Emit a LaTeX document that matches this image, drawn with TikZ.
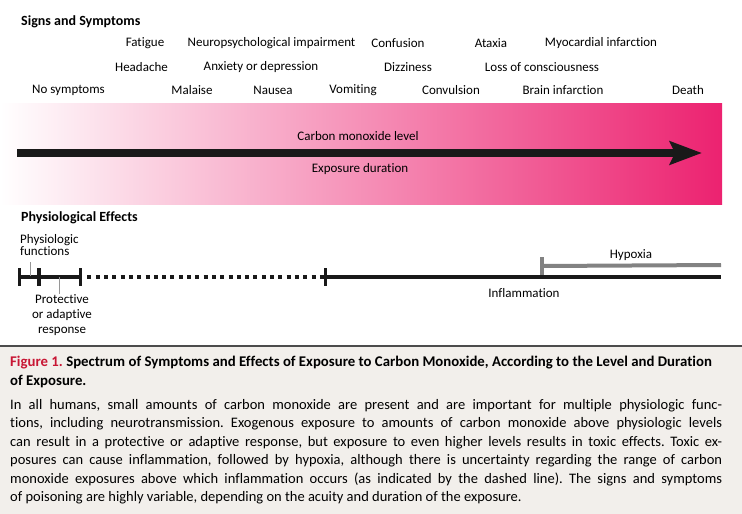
\documentclass[tikz,border=0pt]{standalone}
\usepackage{fontspec}
\setmainfont[Ligatures=NoCommon]{Carlito}
\usetikzlibrary{arrows.meta}
\definecolor{copink}{RGB}{236,34,112}
\definecolor{copinkmid}{RGB}{247,182,200}
\definecolor{figred}{RGB}{200,22,52}
\definecolor{capbg}{RGB}{242,239,235}
\definecolor{leadgray}{RGB}{150,150,150}
\definecolor{hypgray}{RGB}{130,130,130}
\newcommand{\symfont}{\fontsize{13}{14}\selectfont}
\newcommand{\headfont}{\fontsize{14}{15}\selectfont\bfseries}
\frenchspacing

\begin{document}
\begin{tikzpicture}[
      x=1pt, y=-1pt,
      symptom/.style={font=\symfont, inner sep=0pt},
      heading/.style={font=\headfont, anchor=west, inner sep=0pt},
      bigarrow/.style={line width=8pt, black!90, -{Stealth[length=32pt,width=23pt,inset=5pt]}},
      tickmark/.style={fill=black!90, draw=none, inner sep=0pt, minimum width=3.5pt, minimum height=18pt},
      hyptick/.style={fill=hypgray, draw=none, inner sep=0pt, minimum width=4pt, minimum height=18pt},
      level/.style={line width=4pt, black!90},
      uncertain/.style={line width=4pt, black!90, dash pattern=on 4pt off 4.3pt},
      hypoxia/.style={line width=4pt, hypgray},
      leader/.style={line width=0.8pt, leadgray}
    ]
    \useasboundingbox (0,0) rectangle (742,514);
    % Draw the background of the spectrum and the caption.
    \shade[left color=white, middle color=copinkmid, right color=copink] (0,103) rectangle (722,204);
    \fill[capbg] (0,346) rectangle (742,514);
    \draw[line width=1.5pt, black!70] (0,346) -- (742,346);
    % Signs and symptoms.
    \node[heading] (signs) at (21,22) {Signs and Symptoms};
    \node[symptom] (fatigue) at (145,43) {Fatigue};
    \node[symptom] (neuro) at (271.5,43) {Neuropsychological impairment};
    \node[symptom] (confusion) at (398,43) {Confusion};
    \node[symptom] (ataxia) at (491,43) {Ataxia};
    \node[symptom] (myo) at (601,43) {Myocardial infarction};
    \node[symptom] (headache) at (141.5,67) {Headache};
    \node[symptom] (anxiety) at (261,67) {Anxiety or depression};
    \node[symptom] (dizzy) at (408,67) {Dizziness};
    \node[symptom] (loss) at (542,67) {Loss of consciousness};
    \node[symptom] (nosym) at (68.5,90) {No symptoms};
    \node[symptom] (malaise) at (192,90) {Malaise};
    \node[symptom] (nausea) at (273,90) {Nausea};
    \node[symptom] (vomit) at (353,90) {Vomiting};
    \node[symptom] (convul) at (451,90) {Convulsion};
    \node[symptom] (brain) at (563,90) {Brain infarction};
    \node[symptom] (death) at (688,90) {Death};
    % Draw the exposure arrow.
    \coordinate (arrowtail) at (17,153);
    \coordinate (arrowtip) at (702,153);
    \draw[bigarrow] (arrowtail) -- (arrowtip);
    \node[symptom] (colevel) at (358,136) {Carbon monoxide level};
    \node[symptom] (duration) at (360,169) {Exposure duration};
    % Physiological effects.
    \node[heading] (effects) at (21,218) {Physiological Effects};
    \node[symptom, anchor=north west, align=left, font=\fontsize{13}{12.5}\selectfont] (physio) at (20,234) {Physiologic\\functions};
    \node[tickmark] (t0) at (19.5,276.5) {};
    \node[tickmark] (t1) at (39,276.5) {};
    \node[tickmark] (t2) at (80.5,276.5) {};
    \node[tickmark] (t3) at (325.5,276.5) {};
    \coordinate (lineend) at (721,276.5);
    \draw[level] (t0) -- (t1);
    \draw[level] (t1) -- (t2);
    \draw[uncertain] (t2.east) ++(5,0) -- (t3.west);
    \draw[level] (t3) -- (lineend);
    \node[hyptick] (h0) at (542,266) {};
    \coordinate (hypend) at (721,265);
    \draw[hypoxia] (h0.center) -- (hypend);
    \node[symptom] (hypoxlab) at (631,255) {Hypoxia};
    \node[symptom] (inflam) at (524,293) {Inflammation};
    \node[symptom, align=center, font=\fontsize{13}{15}\selectfont] (protect) at (62,315) {Protective\\or adaptive\\response};
    % Draw the leaders.
    \coordinate (funcfoot) at (30,262);
    \coordinate (funcdot) at (30,276);
    \coordinate (protdot) at (59,277);
    \draw[leader] (funcfoot) -- (funcdot);
    \draw[leader] (protdot) -- (protect.north -| protdot);
    % Caption.
    \node[anchor=north west, inner sep=0pt, align=left, font=\fontsize{14.8}{19}\selectfont\bfseries] (title) at (10,356)
      {{\color{figred}Figure 1.} Spectrum of Symptoms and Effects of Exposure to Carbon Monoxide, According to the Level and Duration\\of Exposure.};
    \node[anchor=north west, inner sep=0pt, text width=712pt, align=justify, font=\fontsize{14.5}{18.5}\selectfont] (body) at (10,399)
      {In all humans, small amounts of carbon monoxide are present and are important for multiple physiologic func-\linebreak
      tions, including neurotransmission. Exogenous exposure to amounts of carbon monoxide above physiologic levels\linebreak
      can result in a protective or adaptive response, but exposure to even higher levels results in toxic effects. Toxic ex-\linebreak
      posures can cause inflammation, followed by hypoxia, although there is uncertainty regarding the range of carbon\linebreak
      monoxide exposures above which inflammation occurs (as indicated by the dashed line). The signs and symptoms\linebreak
      of poisoning are highly variable, depending on the acuity and duration of the exposure.};
    \end{tikzpicture}
\end{document}
